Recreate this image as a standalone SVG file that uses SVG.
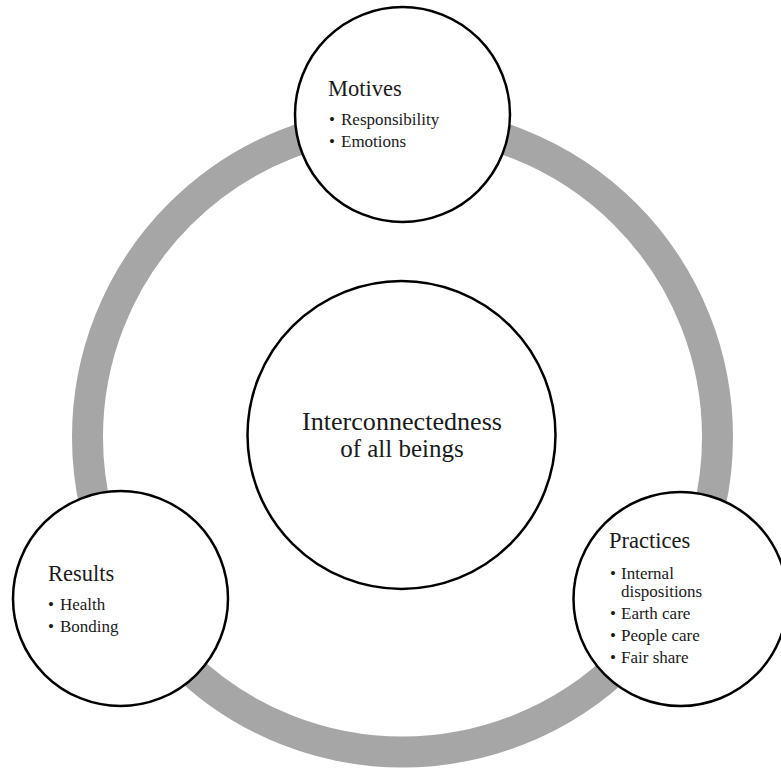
<svg xmlns="http://www.w3.org/2000/svg" width="781" height="769" viewBox="0 0 781 769">
<style>
.node{fill:#fff;stroke:#000;stroke-width:2.5}
text{font-family:"Liberation Serif","Times New Roman",serif;fill:#1a1a1a}
.title{font-size:22.5px}
.item{font-size:17px}
.center{font-size:25px}
</style>
<rect width="781" height="769" fill="#fff"/>
<g id="connectors">
<circle cx="402.5" cy="437" r="315" fill="none" stroke="#a6a6a6" stroke-width="31"/>
</g>
<g id="center">
<circle class="node" cx="401.5" cy="435" r="154"/>
<text class="center" x="402" y="430" text-anchor="middle" textLength="200" lengthAdjust="spacingAndGlyphs">Interconnectedness</text>
<text class="center" x="402" y="457" text-anchor="middle">of all beings</text>
</g>
<g id="motives">
<circle class="node" cx="402.5" cy="114.5" r="107.5"/>
<text class="title" x="328" y="96">Motives</text>
<text class="item" x="329" y="125">•</text><text class="item" x="341" y="125">Responsibility</text>
<text class="item" x="329" y="147">•</text><text class="item" x="341" y="147">Emotions</text>
</g>
<g id="results">
<circle class="node" cx="120.5" cy="598.5" r="107.5"/>
<text class="title" x="48" y="581">Results</text>
<text class="item" x="48" y="610">•</text><text class="item" x="60" y="610">Health</text>
<text class="item" x="48" y="632">•</text><text class="item" x="60" y="632">Bonding</text>
</g>
<g id="practices">
<circle class="node" cx="680.5" cy="599" r="107"/>
<text class="title" x="609" y="548">Practices</text>
<text class="item" x="610" y="579">•</text><text class="item" x="621" y="579">Internal</text>
<text class="item" x="621" y="597">dispositions</text>
<text class="item" x="610" y="619">•</text><text class="item" x="621" y="619">Earth care</text>
<text class="item" x="610" y="641">•</text><text class="item" x="621" y="641">People care</text>
<text class="item" x="610" y="663">•</text><text class="item" x="621" y="663">Fair share</text>
</g>
</svg>
